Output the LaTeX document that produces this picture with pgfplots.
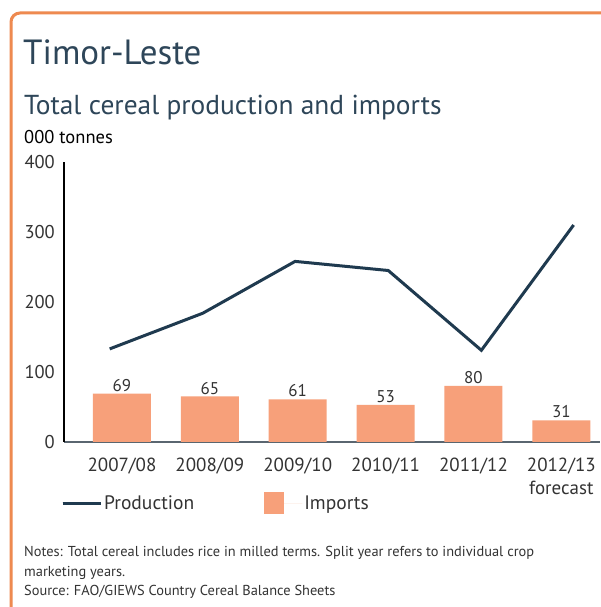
\documentclass[border=0pt]{standalone}
\usepackage{pgfplots}
\pgfplotsset{compat=1.18}
\usepackage{fontspec}
\setmainfont{PT Sans}

\definecolor{frameorange}{HTML}{EE8A50}
\definecolor{titleblue}{HTML}{2E4659}
\definecolor{linenavy}{HTML}{1F3A4F}
\definecolor{barsalmon}{HTML}{F7A07A}
\definecolor{xaxisgray}{HTML}{5A6670}
\definecolor{txtgray}{HTML}{333333}

\begin{document}
\begin{tikzpicture}[x=1pt,y=1pt]
\useasboundingbox (0,0) rectangle (601,607);
\fill[white] (0,0) rectangle (601,607);
\draw[frameorange, line width=3pt, rounded corners=9pt] (11,594) rectangle (660,-40);

% titles
\node[anchor=base west, inner sep=0pt, text=titleblue, font=\fontsize{35}{40}\selectfont] at (23,542) {Timor-Leste};
\node[anchor=base west, inner sep=0pt, text=titleblue, font=\fontsize{27.4}{30}\selectfont] at (24,492) {Total cereal production and imports};
\node[anchor=base west, inner sep=0pt, text=black, font=\fontsize{18.5}{22}\selectfont] at (24,463) {000 tonnes};

\begin{axis}[
  at={(64pt,165pt)}, anchor=south west,
  scale only axis, width=536pt, height=280pt,
  xmin=-0.66, xmax=5.44, ymin=0, ymax=400,
  axis x line=bottom, axis y line=left,
  x axis line style={-, xaxisgray, line width=2.5pt},
  y axis line style={-, black, line width=2pt},
  major tick length=0pt,
  xtick={0,1,2,3,4,5},
  xticklabels={2007/08,2008/09,2009/10,2010/11,2011/12,{2012/13\\forecast}},
  ytick={0,100,200,300,400},
  xticklabel style={anchor=north, inner sep=0pt, yshift=-16pt, align=center,
    font=\fontsize{19}{23}\selectfont, text=txtgray},
  yticklabel style={anchor=east, inner sep=0pt, xshift=-9pt,
    font=\fontsize{18.5}{22}\selectfont, text=txtgray},
  /pgf/number format/assume math mode=true,
  clip=false,
  legend columns=2,
  legend style={draw=none, fill=none, at={(rel axis cs:0,0)}, anchor=west,
    yshift=-61pt, xshift=-6pt, font=\fontsize{19.5}{22}\selectfont, text=txtgray,
    /tikz/every even column/.append style={column sep=68pt}},
]
\addplot[linenavy, line width=3pt, line join=miter, mark=none,
  legend image code/.code={\draw[linenavy, line width=2.5pt] (0pt,0pt) -- (35pt,0pt);
    \path (0pt,0pt) -- (38pt,0pt);}]
  coordinates {(-0.14,133) (0.92,184) (1.97,258) (3.03,245) (4.09,131) (5.14,310)};
\addlegendentry{Production}
\addplot[ybar, bar width=58pt, fill=barsalmon, draw=none,
  nodes near coords,
  every node near coord/.append style={inner sep=2pt, text=txtgray, font=\fontsize{17}{20}\selectfont},
  legend image code/.code={\fill[barsalmon] (0pt,-11pt) rectangle (20pt,11pt);
    \path (0pt,0pt) -- (38pt,0pt);}]
  coordinates {(0,69) (1,65) (2,61) (3,53) (4,80) (5,31)};
\addlegendentry{Imports}
\end{axis}

% notes
\node[anchor=base west, inner sep=0pt, text=txtgray, font=\fontsize{14.4}{18}\selectfont] at (24,50) {Notes: Total cereal includes rice in milled terms. Split year refers to individual crop};
\node[anchor=base west, inner sep=0pt, text=txtgray, font=\fontsize{14.4}{18}\selectfont] at (24,30) {marketing years.};
\node[anchor=base west, inner sep=0pt, text=txtgray, font=\fontsize{14.4}{18}\selectfont] at (24,11) {Source: FAO/GIEWS Country Cereal Balance Sheets};
\end{tikzpicture}
\end{document}
